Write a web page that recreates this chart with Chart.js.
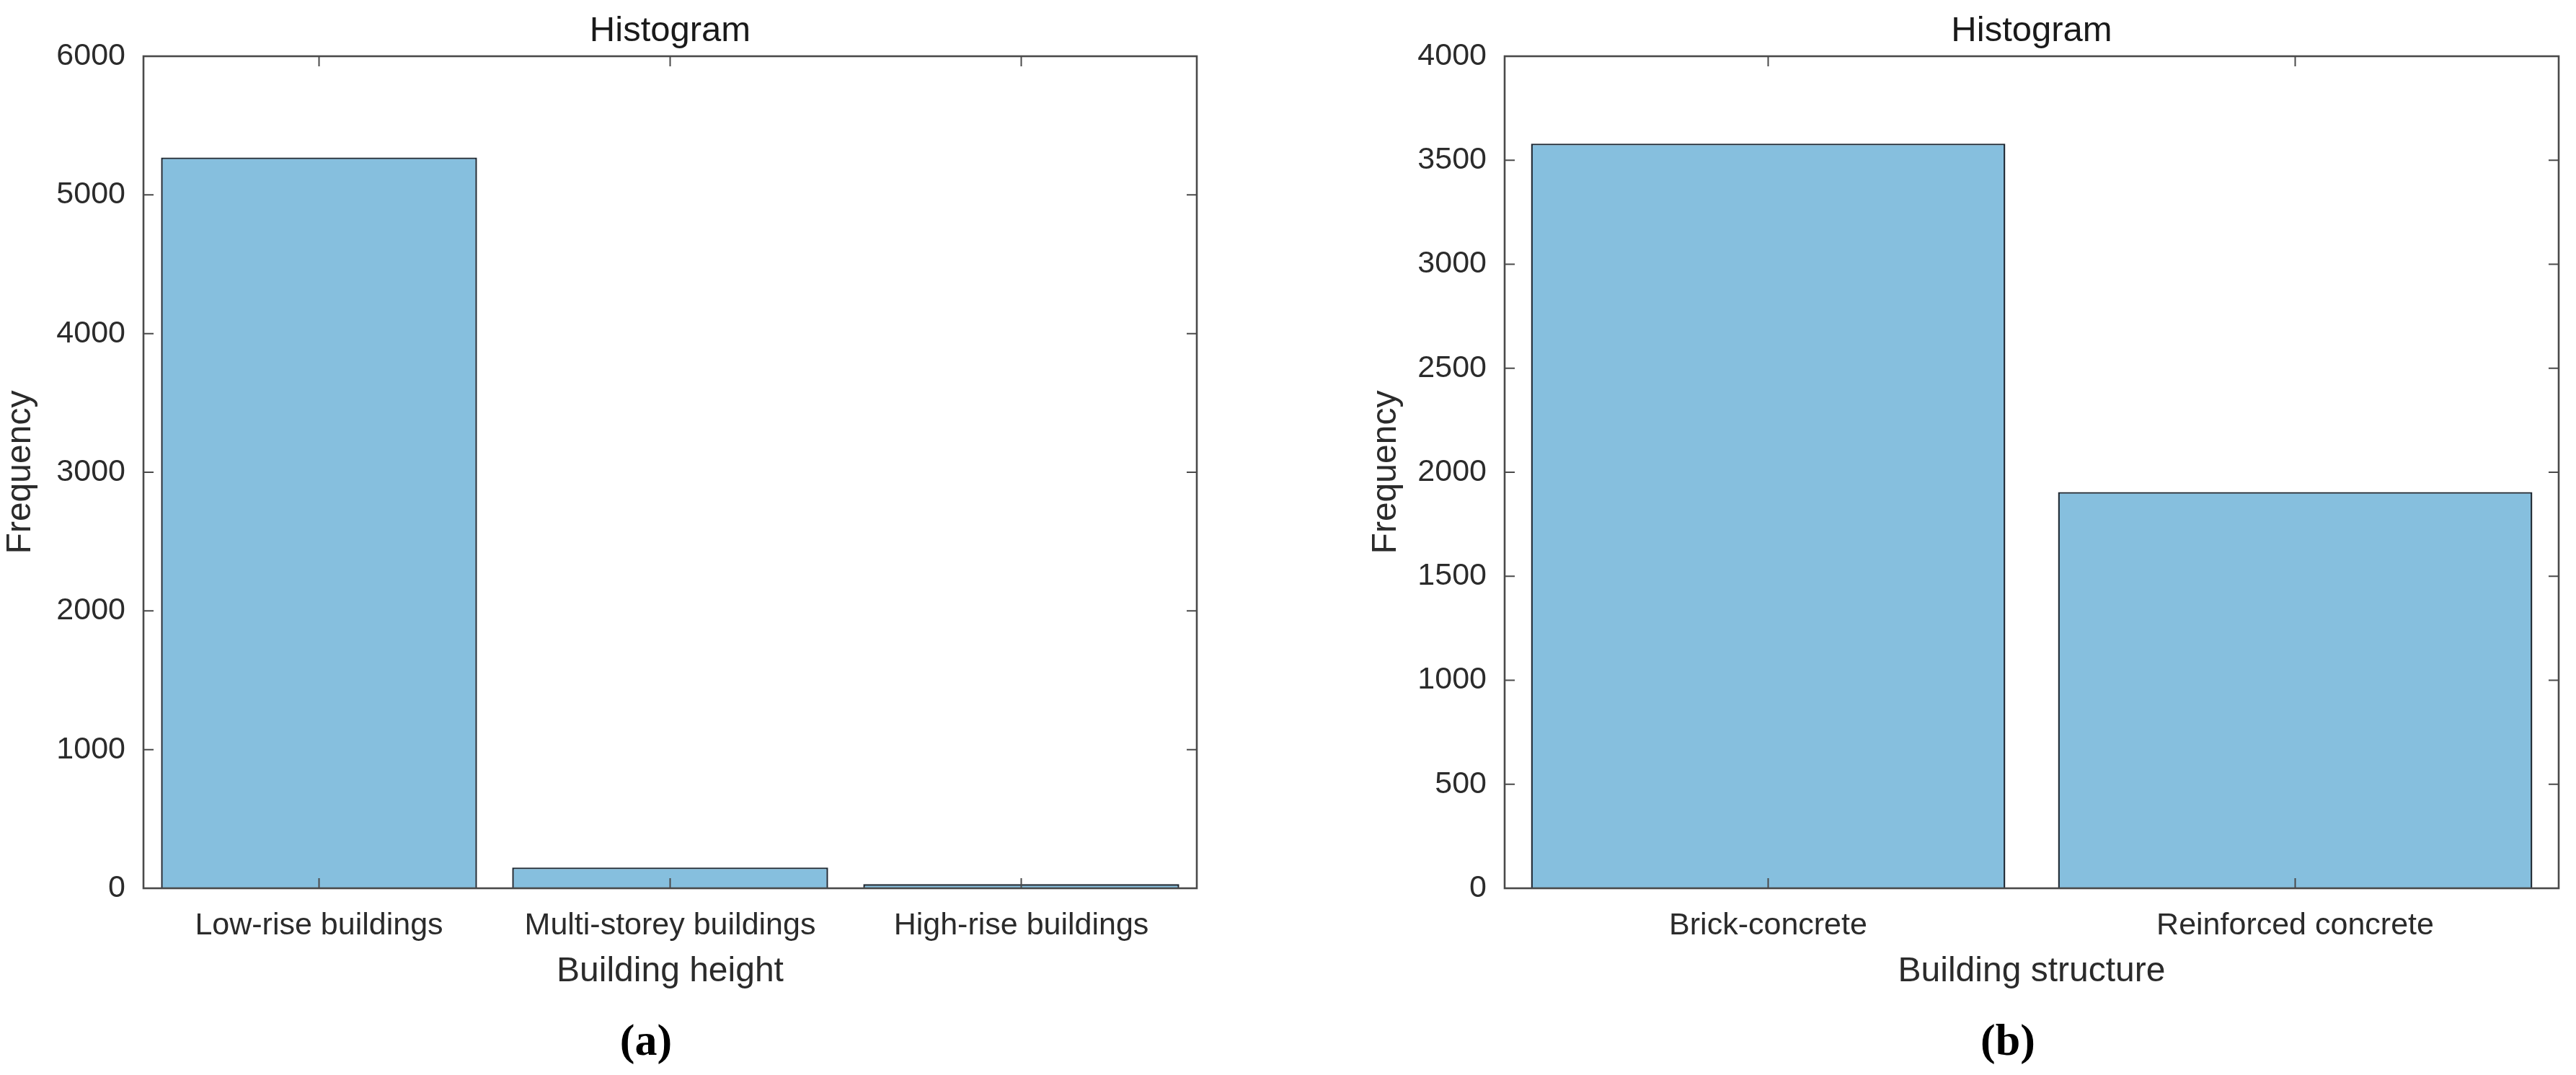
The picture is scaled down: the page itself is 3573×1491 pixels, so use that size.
<!doctype html>
<html lang="en">
<head>
    <meta charset="utf-8">
    <title>Histogram</title>
    <script src="https://cdn.jsdelivr.net/npm/chart.js"></script>
    <style>
        body { margin: 0; background: #fff; }
        .wrap { position: relative; width: 3573px; height: 1491px; overflow: hidden; }
        canvas { position: absolute; top: 0; }
        .panel-tag {
            position: absolute; width: 200px; text-align: center;
            font: bold 62px "Liberation Serif", "DejaVu Serif", serif;
            line-height: 62px; color: #000;
        }
    </style>
</head>
<body>
    <div class="wrap">
        <canvas id="heightChart" width="1790" height="1491" style="left:0"></canvas>
        <canvas id="structChart" width="1783" height="1491" style="left:1790px"></canvas>
        <div class="panel-tag" style="left:796px; top:1411px">(a)</div>
        <div class="panel-tag" style="left:2685px; top:1411px">(b)</div>
    </div>
    <script>
        // data
        const heightCats = ['Low-rise buildings', 'Multi-storey buildings', 'High-rise buildings'];
        const heightCounts = [5270, 150, 30];
        const heightTicks = [0, 1000, 2000, 3000, 4000, 5000, 6000];

        const structCats = ['Brick-concrete', 'Reinforced concrete'];
        const structCounts = [3580, 1905];
        const structTicks = [0, 500, 1000, 1500, 2000, 2500, 3000, 3500, 4000];

        const sans = '"Liberation Sans", Arial, Helvetica, sans-serif';
        const axisColor = '#4a4a4a';
        const textColor = '#2b2b2b';

        // box around the plot plus the inward tick marks (matlab style)
        const boxPlugin = {
            id: 'boxPlugin',
            afterDatasetsDraw(chart) {
                const { ctx, chartArea: a } = chart;
                const xs = chart.scales.x, ys = chart.scales.y;
                const tl = 14;
                ctx.save();
                ctx.strokeStyle = axisColor;
                ctx.lineWidth = 2;
                ys.ticks.forEach(t => {
                    const y = ys.getPixelForValue(t.value);
                    ctx.beginPath();
                    ctx.moveTo(a.left, y); ctx.lineTo(a.left + tl, y);
                    ctx.moveTo(a.right, y); ctx.lineTo(a.right - tl, y);
                    ctx.stroke();
                });
                xs.ticks.forEach((t, i) => {
                    const x = xs.getPixelForTick(i);
                    ctx.beginPath();
                    ctx.moveTo(x, a.bottom); ctx.lineTo(x, a.bottom - tl);
                    ctx.moveTo(x, a.top); ctx.lineTo(x, a.top + tl);
                    ctx.stroke();
                });
                ctx.lineWidth = 2.6;
                ctx.strokeRect(a.left, a.top, a.right - a.left, a.bottom - a.top);
                ctx.restore();
            }
        };

        function makeChart(id, cats, counts, yTicks, xTitle, padLeft, padRight, yWidth) {
            const ctx = document.getElementById(id).getContext('2d');
            return new Chart(ctx, {
                type: 'bar',
                data: {
                    labels: cats,
                    datasets: [{
                        data: counts,
                        backgroundColor: '#86bfde',
                        borderColor: 'rgba(18, 30, 40, 0.95)',
                        borderWidth: 2.4,
                        categoryPercentage: 1,
                        barPercentage: 0.9
                    }]
                },
                options: {
                    responsive: false,
                    animation: false,
                    devicePixelRatio: 1,
                    layout: { padding: { left: padLeft, right: padRight, top: 0, bottom: 114 } },
                    plugins: {
                        legend: { display: false },
                        tooltip: { enabled: false },
                        title: {
                            display: true,
                            text: 'Histogram',
                            fullSize: false,
                            color: '#1a1a1a',
                            font: { family: sans, size: 49, weight: 'normal' },
                            padding: { top: 13.6, bottom: 5.6 }
                        }
                    },
                    scales: {
                        x: {
                            offset: true,
                            grid: { display: false, drawTicks: false },
                            border: { display: false },
                            ticks: { color: textColor, padding: 26, maxRotation: 0, font: { family: sans, size: 43 } },
                            title: { display: true, text: xTitle, color: textColor, padding: 0, font: { family: sans, size: 48 } },
                            afterFit: s => { s.height = 145; }
                        },
                        y: {
                            min: yTicks[0],
                            max: yTicks[yTicks.length - 1],
                            afterBuildTicks: s => { s.ticks = yTicks.map(v => ({ value: v })); },
                            grid: { display: false, drawTicks: false },
                            border: { display: false },
                            ticks: { color: textColor, padding: 25, font: { family: sans, size: 43 }, callback: v => String(v) },
                            title: { display: true, text: 'Frequency', color: textColor, padding: 0, font: { family: sans, size: 48 } },
                            afterFit: s => { s.width = yWidth; }
                        }
                    }
                },
                plugins: [boxPlugin]
            });
        }

        makeChart('heightChart', heightCats, heightCounts, heightTicks, 'Building height', 0, 130, 199);
        makeChart('structChart', structCats, structCounts, structTicks, 'Building structure', 104, 24, 193);
    </script>
</body>
</html>
